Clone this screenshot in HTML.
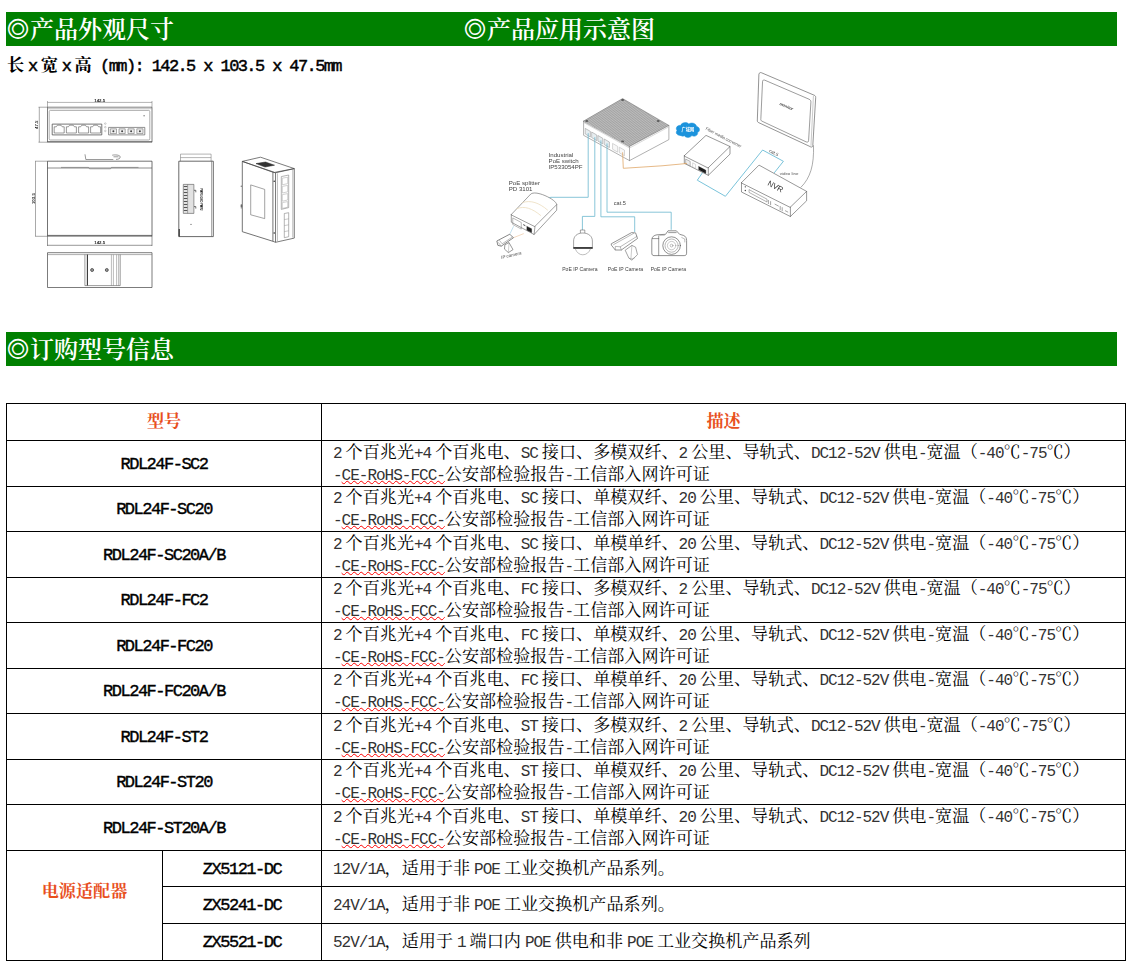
<!DOCTYPE html>
<html lang="zh-CN">
<head>
<meta charset="utf-8">
<title>产品外观尺寸 / 订购型号信息</title>
<style>
*{box-sizing:border-box}
html,body{margin:0;padding:0;background:#fff}
body{width:1134px;height:975px;position:relative;overflow:hidden;
 font-family:"Liberation Mono","Noto Serif CJK SC",serif;font-size:17.1px;color:#000;
 font-kerning:none;font-variant-ligatures:none}
.bar{position:absolute;left:6px;width:1111px;height:34px;background:#008000;color:#fff;
 font-size:24px;line-height:34px;margin:0;font-weight:600;white-space:pre}
.bz{font-family:"Liberation Mono","IPAGothic","Noto Serif CJK SC",serif;font-weight:400;line-height:0}
.bar h2{font:inherit;margin:0;position:absolute;top:3px;left:0}
.dim{position:absolute;left:7px;top:55px;margin:0;line-height:23px;font-weight:700;white-space:pre}
.l{font-family:"Liberation Mono",monospace;font-size:16px;letter-spacing:-1px}
.g{margin-left:4px}.h{margin-right:4px}
table{position:absolute;left:6px;top:403px;border-collapse:collapse;table-layout:fixed;width:1119px}
td,th{border:1px solid #000;padding:0;vertical-align:middle;font-weight:400;line-height:22px;white-space:pre}
td>div,th>div{position:relative;top:1px}
th{color:#e8501e;font-weight:700;text-align:center}
th.pw>div{top:-13px}
td.m{text-align:center;font-weight:700}
td.m .l{font-size:17px;letter-spacing:-1.5px;font-weight:400;-webkit-text-stroke:0.4px #000}
.dim .l{font-size:17px;letter-spacing:-1.6px;font-weight:400;-webkit-text-stroke:0.45px #000}
td.d{padding-left:11px;text-align:left}
td.d .l{color:#333}
.sq{text-decoration:underline wavy #f00 0.8px;text-underline-offset:0px;text-decoration-skip-ink:none}
</style>
</head>
<body>
<div class="bar" style="top:12px"><h2><span class="bz">◎</span>产品外观尺寸</h2><h2 style="left:457px"><span class="bz">◎</span>产品应用示意图</h2></div>
<p class="dim">长<span class="l g h">x</span>宽<span class="l g h">x</span>高<span class="l"> (mm): 142.5 x 103.5 x 47.5mm</span></p>
<svg class="fig" id="fig-dim" style="position:absolute;left:20px;top:90px" width="310" height="210" viewBox="20 90 310 210" role="img" aria-label="产品外观尺寸图">
<defs><filter id="soft" x="-5%" y="-5%" width="110%" height="110%"><feGaussianBlur stdDeviation="0.32"/></filter></defs>
<g filter="url(#soft)" fill="none" stroke="#444" stroke-width="0.68" stroke-linejoin="round" font-family="'Liberation Sans',sans-serif">
<!-- front view -->
<g id="front">
<path d="M47.5 101v6.2M152 101v6.2M47.5 102.4H152" stroke-width="0.5" stroke="#666"/>
<path d="M39.3 107.2v35M38.5 107.2h9M38.5 142.2h9" stroke-width="0.5" stroke="#555"/>
<rect x="47.5" y="107.2" width="104.5" height="35"/>
<path d="M47.5 108.7H152" stroke="#888" stroke-width="0.5"/><path d="M47.5 141.5H152" stroke-width="0.6"/>
<rect x="49.2" y="110.4" width="100.6" height="29.6" rx="1.2" stroke="#777" stroke-width="0.6"/>
<rect x="52.2" y="124.1" width="49.6" height="10.8" stroke="#4a4a4a" stroke-width="0.75"/>
<path d="M54.2 133v-6.2h2l1.2-1.6h3.6l1.2 1.6h2v6.2zM66.4 133v-6.2h2l1.2-1.6h3.6l1.2 1.6h2v6.2zM78.6 133v-6.2h2l1.2-1.6h3.6l1.2 1.6h2v6.2zM90.6 133v-6.2h2l1.2-1.6h3.6l1.2 1.6h2v6.2z" stroke="#555" stroke-width="0.6"/>
<circle cx="105.3" cy="123.6" r="0.8" stroke="#888" stroke-width="0.4"/><circle cx="105.3" cy="127.2" r="0.8" stroke="#888" stroke-width="0.4"/><circle cx="105.3" cy="130.9" r="0.8" stroke="#888" stroke-width="0.4"/>
<rect x="108.6" y="127.4" width="36.2" height="7.5" stroke="#555" stroke-width="0.65"/>
<path d="M110.3 128.8h6.2v4.8h-6.2zM119 128.8h6.2v4.8H119zM128 128.8h6.2v4.8H128zM136.8 128.8h6.2v4.8h-6.2z" stroke="#666" stroke-width="0.55" fill="#eee"/>
<g fill="#444" stroke="none"><circle cx="113.4" cy="131.2" r="1"/><circle cx="122.1" cy="131.2" r="1"/><circle cx="131.1" cy="131.2" r="1"/><circle cx="139.9" cy="131.2" r="1"/><circle cx="144.1" cy="115.7" r="0.7" fill="#777"/></g>
<text x="99.7" y="102" font-size="4.4" font-weight="700" text-anchor="middle" fill="#222" stroke="none">142.5</text>
<text transform="translate(38.4 124.8) rotate(-90)" font-size="4.4" font-weight="700" text-anchor="middle" fill="#222" stroke="none">47.5</text>
</g>
<!-- top view -->
<g id="top">
<path d="M85 154.3l0.8 5.2h27.5M112.2 155.2c3-0.6 7.6-0.3 8 1.6c0.3 1.8-2 2.6-4.2 2.6M113.5 156.8h5" stroke="#555" stroke-width="0.6"/>
<rect x="47.5" y="161.2" width="104.5" height="74.9" stroke-width="0.75"/>
<path d="M47.5 168H152" stroke-width="0.6"/>
<path d="M61 167.4h27.5l1 1.4h21l1-1.4h27" stroke="#666" stroke-width="0.6"/>
<path d="M47.5 235.4H152" stroke-width="0.7"/>
<path d="M35.5 161.2v75M35 161.2h12.5M35 236.3h12.5" stroke-width="0.5" stroke="#555"/>
<path d="M47.5 236v10M152 236v10M47.5 245.3H152" stroke-width="0.55" stroke="#444"/>
<text x="99.7" y="244.3" font-size="4.4" font-weight="700" text-anchor="middle" fill="#222" stroke="none">142.5</text>
<text transform="translate(34.6 198.6) rotate(-90)" font-size="4.4" font-weight="700" text-anchor="middle" fill="#222" stroke="none">103.5</text>
</g>
<!-- rear view -->
<g id="rear">
<rect x="47.5" y="252.7" width="104.5" height="34.8" stroke-width="0.7"/>
<path d="M47.5 254.6H152" stroke="#777" stroke-width="0.6"/>
<path d="M84.9 254.6v31h35.3v-31" stroke="#555" stroke-width="0.6"/>
<path d="M87.4 254.6v31" stroke="#333" stroke-width="1.1"/>
<path d="M111.4 254.6v31M113.4 254.6v31M116.6 254.6v31M118.6 254.6v31" stroke="#777" stroke-width="0.5"/>
<circle cx="92.1" cy="270" r="1.5" stroke="#333" stroke-width="0.7" fill="#999"/><circle cx="106.8" cy="270" r="1.5" stroke="#333" stroke-width="0.7" fill="#999"/>
</g>
<!-- side view -->
<g id="side">
<path d="M180.5 161.2v-7.1h30.6v7.1M180.5 157.6h30.6" stroke="#777" stroke-width="0.55"/>
<rect x="178.8" y="161.2" width="34.5" height="75.4" stroke-width="0.8"/>
<path d="M211.6 161.2v75.4" stroke="#666" stroke-width="0.6"/>
<path d="M179.2 229v7.4" stroke="#222" stroke-width="1.1"/>
<rect x="183.3" y="184.4" width="10.6" height="29" fill="#e2e2e2" stroke="#555" stroke-width="0.6"/>
<path d="M183.8 186.5h3.6M183.8 189.5h3.6M183.8 192.5h3.6M183.8 195.5h3.6M183.8 198.500h3.6M183.8 201.5h3.6M183.8 204.5h3.6M183.8 207.5h3.6M183.8 210.5h3.6" stroke="#555" stroke-width="1.2"/>
<path d="M187.6 184.4v29" stroke="#666" stroke-width="0.5"/>
<path d="M194 190.3h1.8v2M194 206.6h1.8v2" stroke="#333" stroke-width="0.7"/>
<text transform="translate(200.2 199.4) rotate(90)" font-size="2.6" font-weight="700" text-anchor="middle" fill="#111" stroke="none">PWR1 GND PWR2</text>
<circle cx="191" cy="224.4" r="0.7" fill="#777" stroke="none"/>
</g>
<!-- isometric view -->
<g id="iso">
<path d="M242.3 161.4L260.5 157.2L294.3 168.6L274.6 172.4Z" stroke-width="0.7"/>
<path d="M242.3 161.4L272.9 172.2V241.3L242.3 231.7Z" stroke-width="0.75"/>
<path d="M272.9 172.2l2.6 0.6V242.3l-2.6-1" stroke="#444" stroke-width="0.7"/>
<path d="M275.5 172.8L294.3 168.6V238.1L275.5 242.3" stroke-width="0.7"/>
<path d="M277.4 173.4v67.6M292.8 169.6v68" stroke="#777" stroke-width="0.5"/>
<path d="M250.7 184.9L264.7 189.4V218.6L250.7 214.8Z" stroke="#666" stroke-width="0.6"/>
<path d="M256 163.6l9.5-1.6l9 3.2l-9.5 1.8z" fill="#333" stroke="#222" stroke-width="0.5"/>
<path d="M281.3 176.6l7.4-1.6v32.6l-7.4 1.8z" stroke="#777" stroke-width="0.55"/>
<path d="M282.3 178.2l5.4-1v6.4l-5.4 1.2zM282.3 186.4l5.400-1v6.400l-5.4 1.2zM282.300 194.600l5.400-1v6.400l-5.400 1.200zM282.300 202.600l5.400-1v5.600l-5.400 1.200z" stroke="#999" stroke-width="0.45"/>
<path d="M284.300 213.500l4.400-0.800v24l-4.400 1z" stroke="#777" stroke-width="0.55"/>
<path d="M284.300 219.600l4.400-0.800M284.300 225.600l4.400-0.800M284.300 231.600l4.400-0.800" stroke="#888" stroke-width="0.45"/>
<g fill="#333" stroke="none"><circle cx="274.200" cy="181.200" r="0.800"/><circle cx="274.200" cy="233" r="0.800"/><circle cx="241.300" cy="186.200" r="0.700" fill="#777"/><circle cx="241.500" cy="206" r="0.900" fill="#666"/></g>
<path d="M241.300 204v4.500" stroke="#666" stroke-width="0.8"/>
</g>
</g>
</svg>

<svg class="fig" id="fig-app" style="position:absolute;left:480px;top:60px" width="350" height="230" viewBox="480 60 350 230" role="img" aria-label="产品应用示意图">
<defs>
<filter id="soft2" x="-5%" y="-5%" width="110%" height="110%"><feGaussianBlur stdDeviation="0.36"/></filter>
<pattern id="fin" width="1.5" height="1.5" patternUnits="userSpaceOnUse" patternTransform="rotate(-30)"><rect width="1.5" height="1.5" fill="#bcbcbc"/><rect width="1.5" height="0.55" fill="#9a9a9a"/></pattern>
</defs>
<g filter="url(#soft2)" fill="none" stroke="#606060" stroke-width="0.6" stroke-linejoin="round" stroke-linecap="round" font-family="'Liberation Sans',sans-serif">
<g id="cables" stroke="#6ab7ce" stroke-width="0.8" stroke-linecap="butt" stroke-linejoin="miter">
<path d="M588.2 150V197.3H551L545 198.7"/>
<path d="M594.8 152V216.4H582.4V230"/>
<path d="M600.9 155V216.8H634.7V232"/>
<path d="M607 158V212.2H671.2V229.8"/>
<path d="M702.8 172.3L697.3 180.2L725.4 196.3L762.6 150L783.4 161.3L774.2 172.9" stroke="#58b4d0" stroke-width="0.8"/>
<path d="M623.3 168.3L662 165.8L686.6 163.5" stroke="#e0a768" stroke-width="0.8"/>
<path d="M513.6 226.2L510 233.8" stroke="#a9d4e6" stroke-width="0.7"/>
<path d="M523.8 233.6L513.2 237.8" stroke="#eec9a6" stroke-width="0.7"/>
</g>
<g id="switch">
<path d="M583.6 121.1L622.6 98.6L668.9 125.4L668.9 139.6L629.5 160.6L583.6 135.29999999999998Z" fill="#fff" stroke="none"/>
<path d="M583.6 121.1L622.6 98.6L668.9 125.4L629.5 146.4Z" fill="url(#fin)" stroke="#707070" stroke-width="0.55"/>
<path d="M583.6 121.1V135.29999999999998L629.5 160.6L668.9 139.6V125.4M629.5 146.4V160.6" stroke="#707070" stroke-width="0.55"/>
<path d="M584.4 122.9L629.5 148L668.2 127.2" stroke="#aaa" stroke-width="0.45"/>
<g stroke="#8a8a8a" stroke-width="0.5" fill="#e6edf0"><path d="M585.6 128.6l4.8 2.8v5.6l-4.8-2.8zM592 132.2l4.8 2.8v5.6l-4.8-2.8zM598.3 135.7l4.5 2.6v5.6l-4.5-2.6zM604.6 139.2l4.8 2.8v5.6l-4.8-2.8z"/><path d="M612.9 143.6l4.800 2.8v5.8l-4.8-2.8zM619.7 147.4l4.8 2.8v5.6l-4.8-2.8z" fill="#f7f7f7" stroke="#b0b0b0"/></g>
<g fill="#5a5a5a" stroke="none"><ellipse cx="586.8" cy="121" rx="1.5" ry="0.9"/><ellipse cx="622.6" cy="100" rx="1.5" ry="0.9"/><ellipse cx="658.2" cy="121" rx="1.5" ry="0.9"/><ellipse cx="622.6" cy="141.4" rx="1.5" ry="0.9"/></g>
<g stroke="#6ab7ce" stroke-width="0.8" stroke-linecap="butt"><path d="M588.2 133.2V150M594.8 137.2V152M600.9 140.4V155M607 143.4V158"/><path d="M622.6 152.3L623.3 168.3" stroke="#e0a768"/></g>
</g>
<g fill="#444" stroke="none" font-size="6.1">
<text x="548.6" y="156.9">Industrial</text><text x="548.6" y="162.9">PoE switch</text><text x="548.6" y="168.9">IP533054PF</text>
<text x="508.8" y="184.5">PoE splitter</text><text x="508.8" y="190.9">PD 3101</text>
<text x="613.8" y="204.9" font-size="5.6">cat.5</text>
</g>
<g id="splitter">
<path d="M511.3 214.5L530.8 194C533 192.4 538 192.6 545 195.6C552 198.6 556.2 202 556.7 204.6V210.2L534.1 234.5L511.300 222.2Z" fill="#fff" stroke="none"/>
<path d="M511.3 214.5L530.8 194C533 192.400 538 192.6 545 195.6C552 198.6 556.2 202 556.7 204.6L535 226.300Z"/>
<path d="M511.3 214.5V222.2L534.1 234.5L556.7 210.2V204.6M535 226.3L534.1 234.5"/>
<path d="M516.6 208.8c8-3.6 16 0 24 6.6M522.5 202.6c8-3 17 0.4 25 7.4" stroke="#ead9b4" stroke-width="0.7"/>
<path d="M513.1 218.1l8.2 4.4v6.600l-8.2-4.400z" stroke="#777" stroke-width="0.5"/>
<path d="M527 226.4l4.600 2.400v3.800l-4.600-2.400z" fill="#222" stroke="#222" stroke-width="0.4"/>
<path d="M523.6 224.800l1.4 0.700" stroke="#333" stroke-width="0.9"/>
</g>
<g id="ipcam">
<path d="M497.2 240.800L509.800 234.200L513.400 237.800L501.200 246.200L498.200 245.400Z" fill="#fff" stroke="#555" stroke-width="0.7"/>
<path d="M498.4 242.600l2.800 3.400M499.6 240.600l2.600 3.200l10-6.600" stroke="#777" stroke-width="0.5"/>
<path d="M505.2 244.600l3.800-2l4 7l-4.600 3l-3.600-3.200z" fill="#fff" stroke="#555" stroke-width="0.6"/>
<path d="M509 242.600l-0.600 9.800" stroke="#888" stroke-width="0.4"/>
<text transform="translate(501.4 259) rotate(-13)" font-size="4.6" font-style="italic" fill="#4a4a4a" stroke="none">IP camera</text>
</g>
<g id="dome">
<path d="M580.4 233v-3h4.400v3" stroke="#666"/>
<path d="M573.6 247.200V241C573.600 236.400 577 233 582.800 233C588.600 233 592.400 236.400 592.400 241V247.200Z" fill="#fff" stroke="#666"/>
<path d="M573.3 248h19.400" stroke="#1c1c1c" stroke-width="1.500" stroke-linecap="butt"/>
<path d="M575.4 249.200c1.400 3.400 4 5.600 7.400 5.600c3.400 0 6.200-2.200 7.600-5.600" stroke="#888" stroke-width="0.550"/>
</g>
<g id="bullet">
<path d="M611.6 243.600L631.600 232.600L635.600 232.900L637.500 238.500L621.300 250L615.300 250L611.600 245.400Z" fill="#fff" stroke="#5a5a5a" stroke-width="0.650"/>
<path d="M613.6 244.600l20-11.200M615.300 250v-3.600l5 0.400l1 3.200M620.300 246.800l16.600-10.400" stroke="#777" stroke-width="0.500"/>
<path d="M625.500 250L631.900 245.400L635.600 247.200L637.500 254.600L631.900 260.200L629.200 258.300Z" fill="#fff" stroke="#666" stroke-width="0.600"/>
<path d="M631.900 245.400l-1 13.600M629.200 258.300l2.200 0.600l3-1" stroke="#888" stroke-width="0.450"/>
</g>
<g id="dslr">
<path d="M651.800 239.400C651.800 236.800 654 235.200 657 234.800L665.600 234.300L668 230.800H676.400L679.600 234.300L683.400 235.400C685.600 236.200 686.600 238 686.600 240.400V253.200C686.600 254.800 685.800 255.600 684.200 255.600H654C652.400 255.600 651.800 254.800 651.800 253.200Z" fill="#fff" stroke="#555" stroke-width="0.650"/>
<path d="M658.700 236v19.400M652.400 238.600h6.300M668.600 232.600h7.600" stroke="#555" stroke-width="0.600"/>
<circle cx="671.600" cy="245.600" r="8.800" fill="#fff" stroke="#555" stroke-width="0.650"/>
<circle cx="671.600" cy="245.600" r="6.600" stroke="#777" stroke-width="0.500"/>
<circle cx="671.600" cy="245.600" r="4.200" stroke="#888" stroke-width="0.450"/>
<circle cx="671.600" cy="245.600" r="1.400" stroke="#777" stroke-width="0.450"/>
<path d="M681.800 237.600l3 1.400v3M659.800 235.200h4.600" stroke="#777" stroke-width="0.500"/>
</g>
<g fill="#3c3c3c" stroke="none" font-size="5.3" text-anchor="middle">
<text x="579.9" y="271" textLength="35.4" lengthAdjust="spacingAndGlyphs">PoE IP Camera</text><text x="625.5" y="271" textLength="35.4" lengthAdjust="spacingAndGlyphs">PoE IP Camera</text><text x="668.4" y="271" textLength="35.4" lengthAdjust="spacingAndGlyphs">PoE IP Camera</text>
</g>
<g id="cloud">
<path d="M680.6 135.400c-3.600 0.400-5.400-2.600-3.600-4.800c-1.800-2.400 0.200-5.600 3.600-5.200c1.200-3 5.800-3.800 8.200-1.400c2.800-2 7.400-0.600 7.800 2.600c3.400 0.600 4 4.600 1 6c0.600 2.800-3 4.600-5.600 3c-1.800 2.400-6 2.400-7.600 0.200c-1.200 0.600-2.800 0.400-3.800-0.400z" fill="#1c93dc" stroke="#1c93dc" stroke-width="0.500"/>
<text x="687.9" y="131.200" font-size="4.200" font-weight="700" fill="#fff" stroke="none" text-anchor="middle" font-family="'Liberation Sans','Noto Sans CJK SC',sans-serif">广域网</text>
</g>
<g id="converter">
<path d="M684.3 155.7L706 135.4L730 146.5L730 154.1L708.3 175.29999999999998L684.3 163.29999999999998Z" fill="#fff" stroke="none"/>
<path d="M684.3 155.7L706 135.4L730 146.5L708.3 167.7Z" fill="#fff" stroke="#5a5a5a" stroke-width="0.62"/>
<path d="M684.3 155.7V163.29999999999998L708.3 175.29999999999998L730 154.1V146.5M708.3 167.7V175.29999999999998" stroke="#5a5a5a" stroke-width="0.62"/>
<path d="M686 159.200l4.200 2.200v4.600l-4.200-2.200z" stroke="#777" fill="#eee" stroke-width="0.500"/>
<path d="M693 163l2.600 1.400v4.200l-2.600-1.400z" stroke="#aaa" stroke-width="0.450"/>
<path d="M698.800 166.600l7 3.600v3.200l-7-3.600z" fill="#1a1a1a" stroke="#1a1a1a" stroke-width="0.400"/>
<path d="M684.3 163.4L686.600 163.500" stroke="#e0a768" stroke-width="0.8"/>
<text transform="translate(705.3 129.600) rotate(27.500)" font-size="4.300" fill="#555" stroke="none" textLength="39.500" lengthAdjust="spacingAndGlyphs">Fiber media converter</text>
</g>
<g id="monitor">
<path d="M759 73.800C759.300 72.600 760.400 72.200 761.600 72.800L814.400 95.300C815.400 95.800 815.800 96.600 815.700 97.600L812.800 145.600C812.700 147 811.800 147.400 810.600 146.800L758.600 122.600C757.600 122.200 757.200 121.400 757.300 120.400Z" fill="#fff" stroke="#5a5a5a" stroke-width="0.650"/>
<path d="M762.600 81.200C762.800 80 763.600 79.600 764.800 80.200L809 99.200C810.400 99.800 811 100.800 810.900 102.200L808.600 140.400C808.500 142 807.600 142.600 806.200 141.900L762 121.200C761 120.800 760.600 120 760.800 118.800Z" stroke="#5a5a5a" stroke-width="0.600"/>
<path d="M813.400 96.400l-2.400 49" stroke="#888" stroke-width="0.450"/>
<text transform="translate(785.800 107.600) rotate(23)" font-size="3.900" font-style="italic" font-weight="700" fill="#444" stroke="none" text-anchor="middle">monitor</text>
<path d="M813.500 145.700C814.200 165 810.400 178 801 187.200" stroke="#666" stroke-width="0.550"/>
</g>
<g id="nvr">
<path d="M741.5 182.6L759 165.1L806.6 191.4L806.6 200.8L790.4 216.5L741.5 192.0Z" fill="#fff" stroke="none"/>
<path d="M741.5 182.6L759 165.1L806.6 191.4L790.4 207.1Z" fill="#fff" stroke="#5a5a5a" stroke-width="0.62"/>
<path d="M741.5 182.6V192.0L790.4 216.5L806.6 200.8V191.4M790.4 207.1V216.5" stroke="#5a5a5a" stroke-width="0.62"/>
<path d="M749.400 189.800l17.600 9.400v2.800l-17.600-9.400z" stroke="#666" stroke-width="0.500"/>
<path d="M768.400 200.400v3.200M770.600 201.600v3.200M775 204.200l3.400 1.800M780.200 206.400v3.400M782.200 207.600v3.200M785.400 210.800l2.400 1.200" stroke="#666" stroke-width="0.600"/>
<g fill="#333" stroke="none"><circle cx="745.300" cy="186.800" r="0.650"/><circle cx="745.300" cy="190.500" r="0.650"/></g>
<text transform="translate(775.400 186.600) rotate(28)" font-size="7.800" fill="#333" stroke="none" text-anchor="middle" dominant-baseline="central">NVR</text>
<text transform="translate(773.800 152.800) rotate(28)" font-size="4.600" fill="#444" stroke="none" text-anchor="middle" dominant-baseline="central">cat.5</text>
<text x="779.800" y="175.400" font-size="4.400" fill="#555" stroke="none">video line</text>
</g>
</g>
</svg>
<div class="bar" style="top:332px"><h2><span class="bz">◎</span>订购型号信息</h2></div>
<table>
<colgroup><col style="width:156px"><col style="width:159px"><col style="width:804px"></colgroup>
<tr style="height:37px"><th colspan="2"><div>型号</div></th><th><div>描述</div></th></tr>
<tr style="height:46px"><td class="m" colspan="2"><div><span class="l">RDL24F-SC2</span></div></td><td class="d"><div><span class="l h">2</span>个百兆光<span class="l h">+4</span>个百兆电、<span class="l h">SC</span>接口、多模双纤、<span class="l h">2</span>公里、导轨式、<span class="l h">DC12-52V</span>供电<span class="l">-</span>宽温（<span class="l">-40</span>℃<span class="l">-75</span>℃）<br><span class="l">-<span class="sq">CE-RoHS-FCC-</span></span>公安部检验报告<span class="l">-</span>工信部入网许可证</div></td></tr>
<tr style="height:45px"><td class="m" colspan="2"><div><span class="l">RDL24F-SC20</span></div></td><td class="d"><div><span class="l h">2</span>个百兆光<span class="l h">+4</span>个百兆电、<span class="l h">SC</span>接口、单模双纤、<span class="l h">20</span>公里、导轨式、<span class="l h">DC12-52V</span>供电<span class="l">-</span>宽温（<span class="l">-40</span>℃<span class="l">-75</span>℃）<br><span class="l">-<span class="sq">CE-RoHS-FCC-</span></span>公安部检验报告<span class="l">-</span>工信部入网许可证</div></td></tr>
<tr style="height:46px"><td class="m" colspan="2"><div><span class="l">RDL24F-SC20A/B</span></div></td><td class="d"><div><span class="l h">2</span>个百兆光<span class="l h">+4</span>个百兆电、<span class="l h">SC</span>接口、单模单纤、<span class="l h">20</span>公里、导轨式、<span class="l h">DC12-52V</span>供电<span class="l">-</span>宽温（<span class="l">-40</span>℃<span class="l">-75</span>℃）<br><span class="l">-<span class="sq">CE-RoHS-FCC-</span></span>公安部检验报告<span class="l">-</span>工信部入网许可证</div></td></tr>
<tr style="height:45px"><td class="m" colspan="2"><div><span class="l">RDL24F-FC2</span></div></td><td class="d"><div><span class="l h">2</span>个百兆光<span class="l h">+4</span>个百兆电、<span class="l h">FC</span>接口、多模双纤、<span class="l h">2</span>公里、导轨式、<span class="l h">DC12-52V</span>供电<span class="l">-</span>宽温（<span class="l">-40</span>℃<span class="l">-75</span>℃）<br><span class="l">-<span class="sq">CE-RoHS-FCC-</span></span>公安部检验报告<span class="l">-</span>工信部入网许可证</div></td></tr>
<tr style="height:46px"><td class="m" colspan="2"><div><span class="l">RDL24F-FC20</span></div></td><td class="d"><div><span class="l h">2</span>个百兆光<span class="l h">+4</span>个百兆电、<span class="l h">FC</span>接口、单模双纤、<span class="l h">20</span>公里、导轨式、<span class="l h">DC12-52V</span>供电<span class="l">-</span>宽温（<span class="l">-40</span>℃<span class="l">-75</span>℃）<br><span class="l">-<span class="sq">CE-RoHS-FCC-</span></span>公安部检验报告<span class="l">-</span>工信部入网许可证</div></td></tr>
<tr style="height:45px"><td class="m" colspan="2"><div><span class="l">RDL24F-FC20A/B</span></div></td><td class="d"><div><span class="l h">2</span>个百兆光<span class="l h">+4</span>个百兆电、<span class="l h">FC</span>接口、单模单纤、<span class="l h">20</span>公里、导轨式、<span class="l h">DC12-52V</span>供电<span class="l">-</span>宽温（<span class="l">-40</span>℃<span class="l">-75</span>℃）<br><span class="l">-<span class="sq">CE-RoHS-FCC-</span></span>公安部检验报告<span class="l">-</span>工信部入网许可证</div></td></tr>
<tr style="height:46px"><td class="m" colspan="2"><div><span class="l">RDL24F-ST2</span></div></td><td class="d"><div><span class="l h">2</span>个百兆光<span class="l h">+4</span>个百兆电、<span class="l h">ST</span>接口、多模双纤、<span class="l h">2</span>公里、导轨式、<span class="l h">DC12-52V</span>供电<span class="l">-</span>宽温（<span class="l">-40</span>℃<span class="l">-75</span>℃）<br><span class="l">-<span class="sq">CE-RoHS-FCC-</span></span>公安部检验报告<span class="l">-</span>工信部入网许可证</div></td></tr>
<tr style="height:45px"><td class="m" colspan="2"><div><span class="l">RDL24F-ST20</span></div></td><td class="d"><div><span class="l h">2</span>个百兆光<span class="l h">+4</span>个百兆电、<span class="l h">ST</span>接口、单模双纤、<span class="l h">20</span>公里、导轨式、<span class="l h">DC12-52V</span>供电<span class="l">-</span>宽温（<span class="l">-40</span>℃<span class="l">-75</span>℃）<br><span class="l">-<span class="sq">CE-RoHS-FCC-</span></span>公安部检验报告<span class="l">-</span>工信部入网许可证</div></td></tr>
<tr style="height:46px"><td class="m" colspan="2"><div><span class="l">RDL24F-ST20A/B</span></div></td><td class="d"><div><span class="l h">2</span>个百兆光<span class="l h">+4</span>个百兆电、<span class="l h">ST</span>接口、单模单纤、<span class="l h">20</span>公里、导轨式、<span class="l h">DC12-52V</span>供电<span class="l">-</span>宽温（<span class="l">-40</span>℃<span class="l">-75</span>℃）<br><span class="l">-<span class="sq">CE-RoHS-FCC-</span></span>公安部检验报告<span class="l">-</span>工信部入网许可证</div></td></tr>
<tr style="height:36px"><th class="pw" rowspan="3"><div>电源适配器</div></th><td class="m"><div><span class="l">ZX5121-DC</span></div></td><td class="d"><div><span class="l">12V/1A</span>，适用于非<span class="l g h">POE</span>工业交换机产品系列。</div></td></tr>
<tr style="height:37px"><td class="m"><div><span class="l">ZX5241-DC</span></div></td><td class="d"><div><span class="l">24V/1A</span>，适用于非<span class="l g h">POE</span>工业交换机产品系列。</div></td></tr>
<tr style="height:37px"><td class="m"><div><span class="l">ZX5521-DC</span></div></td><td class="d"><div><span class="l">52V/1A</span>，适用于<span class="l g h">1</span>端口内<span class="l g h">POE</span>供电和非<span class="l g h">POE</span>工业交换机产品系列</div></td></tr>
</table>
</body>
</html>
